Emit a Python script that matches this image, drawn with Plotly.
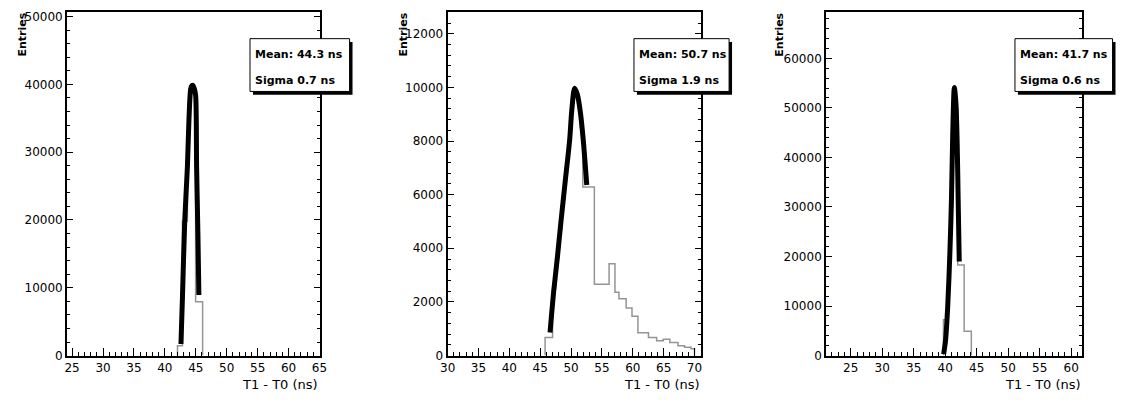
import plotly.graph_objects as go

# ---------------- data ----------------
# Panel 1 histogram (bin edges in ns, counts)
h1_edges = [42.04, 42.84, 43.64, 44.00, 44.30, 44.65, 44.97, 46.10]
h1_counts = [1450, 19800, 33000, 38800, 39800, 39000, 7950]
# Panel 1 fit curve
c1_x = [42.60, 42.84, 43.21, 43.64, 43.90, 44.17, 44.35, 44.53, 44.75, 44.97, 45.13, 45.34, 45.50]
c1_y = [1700, 8460, 19800, 27800, 35000, 39300, 39800, 39850, 39400, 38400, 27800, 18100, 8940]

# Panel 2 histogram
h2_edges = [45.79, 47.00, 47.50, 48.00, 48.50, 49.00, 49.50, 50.00, 50.50, 51.00, 51.50, 51.90,
            53.77, 56.16, 57.11, 57.75, 58.92, 59.87, 60.83, 62.54, 63.86, 64.93, 66.00,
            67.32, 68.39, 69.44, 70.00]
h2_counts = [675, 2510, 3600, 4700, 5800, 7000, 8000, 9400, 9900, 9500, 8500,
             6290, 2655, 3425, 2360, 2117, 1775, 1470, 855, 675, 550, 612,
             490, 367, 306, 250]
# Panel 2 fit curve
c2_x = [46.59, 47.18, 47.80, 48.34, 49.05, 49.78, 50.10, 50.57, 51.00, 51.48, 51.96, 52.54]
c2_y = [860, 2385, 3700, 4955, 6500, 8070, 9115, 9970, 9750, 9115, 8070, 6360]

# Panel 3 histogram
h3_edges = [39.72, 40.40, 40.80, 41.20, 41.60, 42.00, 43.01, 44.15]
h3_counts = [7240, 17000, 30000, 52000, 50000, 18280, 4930]
# Panel 3 fit curve
c3_x = [39.75, 40.05, 40.40, 40.75, 41.00, 41.20, 41.45, 41.70, 41.90, 42.05, 42.23]
c3_y = [300, 3000, 10000, 21000, 31900, 45000, 54100, 51000, 43000, 32000, 19000]

stat_means = ["Mean: 44.3 ns", "Mean: 50.7 ns", "Mean: 41.7 ns"]
stat_sigmas = ["Sigma 0.7 ns", "Sigma 1.9 ns", "Sigma 0.6 ns"]
x_title = "T1 - T0 (ns)"
y_title = "Entries"

# ---------------- layout helpers ----------------
W, H = 1124, 400
def px(p):
    return p / W
def py(p):
    return 1 - p / H

panels = [
    dict(x0=60, x1=316, xr=[24.2, 65.0], yr=[0, 50700], ydt=10000, ymin=2000,
         box=(245.5, 37.5, 346.5, 91.5), ent_x=15),
    dict(x0=446, x1=703, xr=[30.0, 71.05], yr=[0, 12820], ydt=2000, ymin=400,
         box=(635, 37.5, 731.5, 91.5), ent_x=401.5),
    dict(x0=830, x1=1090, xr=[21.1, 61.8], yr=[0, 69400], ydt=10000, ymin=2000,
         box=(1021.5, 37.5, 1120.5, 91.5), ent_x=783),
]
TOP, BOT = 10, 361.7

hists = [(h1_edges, h1_counts), (h2_edges, h2_counts), (h3_edges, h3_counts)]
curves = [(c1_x, c1_y), (c2_x, c2_y), (c3_x, c3_y)]

fig = go.Figure()
FONT = "DejaVu Sans"

shapes = []
annotations = []
for i, p in enumerate(panels):
    n = "" if i == 0 else str(i + 1)
    edges, counts = hists[i]
    hx = [edges[0]] + list(edges)
    hy = [0] + list(counts) + [0]
    fig.add_trace(go.Scatter(x=hx, y=hy, mode="lines", line=dict(color="#949494", width=1.5, shape="hv"),
                             xaxis="x" + n, yaxis="y" + n, showlegend=False, hoverinfo="skip"))
    cx, cy = curves[i]
    fig.add_trace(go.Scatter(x=cx, y=cy, mode="lines", line=dict(color="black", width=5, shape="spline", smoothing=0.8),
                             xaxis="x" + n, yaxis="y" + n, showlegend=False, hoverinfo="skip"))
    fig.update_layout(**{
        "xaxis" + n: dict(domain=[px(p["x0"]), px(p["x1"])], range=p["xr"], anchor="y" + n,
                          showline=True, linecolor="black", linewidth=2, mirror=True,
                          ticks="inside", ticklen=8, tickwidth=1, tickcolor="black",
                          dtick=5, tick0=0, showgrid=False, zeroline=False,
                          minor=dict(ticks="inside", ticklen=4, dtick=1, tickcolor="black", showgrid=False),
                          tickfont=dict(family=FONT, size=12, color="black")),
        "yaxis" + n: dict(domain=[py(BOT), py(TOP)], range=p["yr"], anchor="x" + n,
                          showline=True, linecolor="black", linewidth=2, mirror="ticks",
                          ticks="inside", ticklen=6, tickwidth=1, tickcolor="black",
                          dtick=p["ydt"], tick0=0, tickformat="d", showgrid=False, zeroline=False,
                          minor=dict(ticks="inside", ticklen=3, dtick=p["ymin"], tickcolor="black", showgrid=False),
                          tickfont=dict(family=FONT, size=12, color="black")),
    })
    bx0, by0, bx1, by1 = p["box"]
    # shadow
    shapes.append(dict(type="rect", xref="paper", yref="paper", x0=px(bx0 + 3), x1=px(bx1 + 3),
                       y0=py(by1 + 3.5), y1=py(by0 + 3.5), fillcolor="black", line=dict(width=0), layer="above"))
    shapes.append(dict(type="rect", xref="paper", yref="paper", x0=px(bx0), x1=px(bx1),
                       y0=py(by1), y1=py(by0), fillcolor="white", line=dict(color="black", width=1), layer="above"))
    annotations.append(dict(xref="paper", yref="paper", x=px(bx0 + 3.5), y=py(54), xanchor="left", yanchor="middle",
                            text=stat_means[i], showarrow=False,
                            font=dict(family=FONT, size=11, color="black", weight="bold")))
    annotations.append(dict(xref="paper", yref="paper", x=px(bx0 + 3.5), y=py(80), xanchor="left", yanchor="middle",
                            text=stat_sigmas[i], showarrow=False,
                            font=dict(family=FONT, size=11, color="black", weight="bold")))
    annotations.append(dict(xref="paper", yref="paper", x=px(p["x1"] + 1), y=py(391.5), xanchor="right", yanchor="middle",
                            text=x_title, showarrow=False,
                            font=dict(family=FONT, size=13, color="black")))
    annotations.append(dict(xref="paper", yref="paper", x=px(p["ent_x"]), y=py(9), xanchor="center", yanchor="top",
                            text=y_title, showarrow=False, textangle=-90,
                            font=dict(family=FONT, size=11, color="black", weight="bold")))

fig.update_layout(width=W, height=H, margin=dict(l=0, r=0, t=0, b=0),
                  paper_bgcolor="white", plot_bgcolor="white",
                  shapes=shapes, annotations=annotations, showlegend=False)

fig.write_html("out.html")
